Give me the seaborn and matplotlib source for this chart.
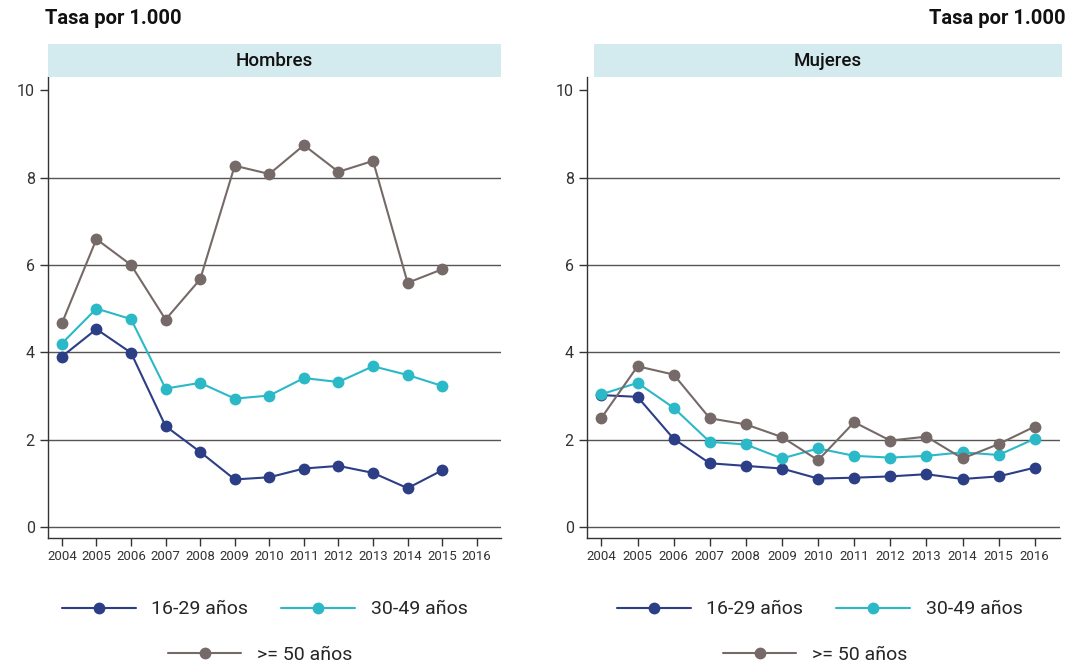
import numpy as np
import pandas as pd
import seaborn as sns
import matplotlib.pyplot as plt

years = list(range(2004, 2017))
groups = ["16-29 años", "30-49 años", ">= 50 años"]

hombres_16_29 = [3.90, 4.53, 3.99, 2.31, 1.72, 1.09, 1.14, 1.34, 1.40, 1.24, 0.89, 1.30, np.nan]
hombres_30_49 = [4.20, 5.00, 4.76, 3.17, 3.30, 2.94, 3.01, 3.41, 3.32, 3.68, 3.48, 3.23, np.nan]
hombres_50 = [4.66, 6.59, 6.00, 4.75, 5.67, 8.27, 8.08, 8.74, 8.13, 8.38, 5.59, 5.90, np.nan]

mujeres_16_29 = [3.02, 2.98, 2.02, 1.46, 1.40, 1.34, 1.11, 1.13, 1.16, 1.21, 1.10, 1.16, 1.36]
mujeres_30_49 = [3.04, 3.30, 2.73, 1.95, 1.89, 1.57, 1.80, 1.63, 1.59, 1.63, 1.71, 1.65, 2.02]
mujeres_50 = [2.50, 3.68, 3.49, 2.49, 2.35, 2.06, 1.53, 2.40, 1.98, 2.07, 1.57, 1.90, 2.30]

colors = ["#2c3e85", "#2bb9c8", "#766a68"]

panels = {
    "Hombres": [hombres_16_29, hombres_30_49, hombres_50],
    "Mujeres": [mujeres_16_29, mujeres_30_49, mujeres_50],
}

sns.set_style("white")
plt.rcParams["font.family"] = ["Roboto", "DejaVu Sans"]

fig = plt.figure(figsize=(10.7, 6.65), dpi=100)
W, H = 1070, 665
boxes = {"Hombres": (48, 501), "Mujeres": (587, 1060)}
strips = {"Hombres": (48, 501), "Mujeres": (594, 1062)}
leg_x = {"Hombres": 0.478, "Mujeres": 0.492}
top, bottom = 77, 538

for name, series in panels.items():
    x0, x1 = boxes[name]
    ax = fig.add_axes([x0 / W, 1 - bottom / H, (x1 - x0) / W, (bottom - top) / H])
    rows = []
    for g, vals in zip(groups, series):
        for y, v in zip(years, vals):
            rows.append({"year": y, "group": g, "value": v})
    df = pd.DataFrame(rows).dropna()
    sns.lineplot(data=df, x="year", y="value", hue="group", hue_order=groups,
                 palette=colors, marker="o", markersize=8.5, markeredgewidth=0,
                 linewidth=1.5, ax=ax)
    handles, labels = ax.get_legend_handles_labels()
    ax.get_legend().remove()

    ax.set_xlim(2003.6, 2016.7)
    ax.set_ylim(-0.25, 10.3)
    ax.set_xticks(years)
    ax.set_xticklabels([str(y) for y in years], fontsize=9.5, color="#333333")
    ax.set_yticks([0, 2, 4, 6, 8, 10])
    ax.set_yticklabels(["0", "2", "4", "6", "8", "10"], fontsize=11.5, color="#333333")
    for yv in [0, 2, 4, 6, 8]:
        ax.axhline(yv, color="#555555", linewidth=1.0, zorder=0)
    ax.set_xlabel("")
    ax.set_ylabel("")
    for s in ["top", "right"]:
        ax.spines[s].set_visible(False)
    for s in ["left", "bottom"]:
        ax.spines[s].set_color("#333333")
        ax.spines[s].set_linewidth(1.0)
    ax.tick_params(axis="both", which="both", length=6, width=1.0, color="#333333",
                   direction="out", left=True, bottom=True)
    ax.tick_params(axis="x", pad=3)

    # strip header
    sx0, sx1 = strips[name]
    fig.patches.append(plt.Rectangle((sx0 / W, 1 - 77 / H), (sx1 - sx0) / W, 33 / H,
                                     transform=fig.transFigure, facecolor="#d3eaee",
                                     edgecolor="none", zorder=0))
    fig.text((sx0 + sx1) / 2 / W, 1 - 61 / H, name, ha="center", va="center",
             fontsize=13.5, fontweight="medium", color="#111111")

    leg1 = ax.legend(handles[:2], labels[:2], ncol=2, frameon=False, fontsize=14,
                     loc="center", bbox_to_anchor=(leg_x[name], -0.155), handlelength=3.8,
                     handletextpad=0.8, columnspacing=1.7)
    ax.add_artist(leg1)
    ax.legend(handles[2:], labels[2:], frameon=False, fontsize=14, loc="center",
              bbox_to_anchor=(leg_x[name] - 0.01, -0.253), handlelength=3.8, handletextpad=0.8)

fig.text(45 / W, 1 - 18 / H, "Tasa por 1.000", ha="left", va="center",
         fontsize=14.5, fontweight="bold", color="#111111")
fig.text(1066 / W, 1 - 18 / H, "Tasa por 1.000", ha="right", va="center",
         fontsize=14.5, fontweight="bold", color="#111111")

fig.savefig("out.png", dpi=100)
plt.close(fig)
